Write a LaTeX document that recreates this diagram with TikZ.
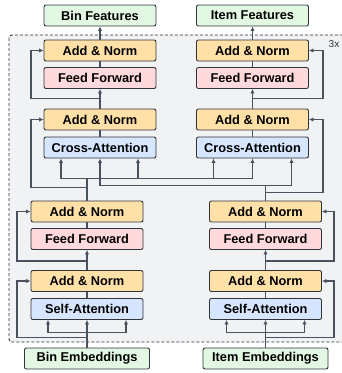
\documentclass[tikz,border=0pt]{standalone}
\usepackage{fontspec}
\setmainfont{Liberation Sans}
\usetikzlibrary{arrows.meta}
\definecolor{normfill}{HTML}{FFE1A8}
\definecolor{fffill}{HTML}{FFD9DC}
\definecolor{attfill}{HTML}{D6E6FF}
\definecolor{iofill}{HTML}{E3F8E2}
\definecolor{boxline}{HTML}{2F343B}
\definecolor{linkgray}{HTML}{4A5260}
\definecolor{panel}{HTML}{F1F2F4}

\begin{document}
\begin{tikzpicture}[
					x=1pt,y=-1pt,
					blk/.style={draw=boxline,line width=0.9pt,rounded corners=2pt,minimum width=112pt,minimum height=21pt,inner sep=0pt,font=\bfseries\fontsize{12.8}{14}\selectfont},
					anorm/.style={blk,fill=normfill},
					ffwd/.style={blk,fill=fffill},
					attn/.style={blk,fill=attfill},
					iobox/.style={blk,fill=iofill},
					link/.style={draw=linkgray,line width=1.2pt},
					arr/.style={link,-{Latex[length=4.5pt,width=4.5pt]}}
					]
					\useasboundingbox (0,0) rectangle (342,373);
					% repeated block
					\draw[boxline,dash pattern=on 3pt off 2pt,line width=0.9pt,fill=panel,rounded corners=3pt] (9,35) rectangle (350,342);
					\node[font=\fontsize{10}{11}\selectfont,text=boxline] (rep) at (334,44) {3x};
					% upper stacks
					\foreach \q/\x/\lab in {b/100/Bin,i/252.5/Item}{
						\node[iobox] (feat\q) at (\x,15.5) {\lab{} Features};
						\node[anorm] (tan2\q) at (\x,50.5) {Add \& Norm};
						\node[ffwd] (tff\q) at (\x,78) {Feed Forward};
						\node[anorm] (tan1\q) at (\x,119.5) {Add \& Norm};
						\node[attn] (ca\q) at (\x,147.5) {Cross-Attention};
						\draw[arr] (tan2\q) -- (feat\q);
						\draw[link] (tff\q) -- (tan2\q);
						\draw[arr] (tan1\q) -- (tff\q);
						\draw[link] (ca\q) -- (tan1\q);
					}
					% lower stacks
					\foreach \q/\x/\lab/\w in {b/87/Bin/125,i/265.5/Item/125}{
						\node[anorm] (ban2\q) at (\x,211.5) {Add \& Norm};
						\node[ffwd] (bff\q) at (\x,239) {Feed Forward};
						\node[anorm] (ban1\q) at (\x,281) {Add \& Norm};
						\node[attn] (sa\q) at (\x,309) {Self-Attention};
						\node[iobox,minimum width=\w pt] (emb\q) at (\x,358.5) {\lab{} Embeddings};
						\draw[link] (bff\q) -- (ban2\q);
						\draw[arr] (ban1\q) -- (bff\q);
						\draw[link] (sa\q) -- (ban1\q);
						\draw[arr] (emb\q) -- (sa\q);
						\draw[arr] ([yshift=15pt]emb\q.north) -| ([xshift=-39pt]sa\q.south);
						\draw[arr] ([yshift=15pt]emb\q.north) -| ([xshift=39pt]sa\q.south);
					}
					% residuals
					\draw[arr] ([yshift=10pt]embb.north) -- ++(-70,0) |- (ban1b.west);
					\draw[arr] ([yshift=9pt]ban1b.north) -- ++(-70,0) |- (ban2b.west);
					\draw[arr] ([yshift=10pt]embi.north) -- ++(68.5,0) |- (ban1i.east);
					\draw[arr] ([yshift=9pt]ban1i.north) -- ++(68.5,0) |- (ban2i.east);
					\draw[arr] ([yshift=10pt]tan1b.north) -- ++(-69,0) |- (tan2b.west);
					\draw[arr] ([yshift=10pt]tan1i.north) -- ++(70.5,0) |- (tan2i.east);
					% cross links
					\coordinate (kb) at ([yshift=22pt]ban2b.north);
					\coordinate (ki) at ([yshift=15pt]ban2i.north);
					\draw[link] (ban2b) -- (kb);
					\draw[link] (ban2i) -- (ki);
					\draw[arr] (kb) -| ([xshift=-39pt]cab.south);
					\draw[arr] (kb) -| ([xshift=38pt]cab.south);
					\draw[arr] (kb) -| ([xshift=-39pt]cai.south);
					\draw[arr] (kb) -| (cai.south);
					\draw[arr] (ki) -| (cab.south);
					\draw[arr] (ki) -| ([xshift=39pt]cai.south);
					\draw[arr] ([yshift=13pt]ban2b.north) -- ++(-56,0) |- (tan1b.west);
					\draw[arr] ([yshift=8pt]ban2i.north) -- ++(57.5,0) |- (tan1i.east);
				\end{tikzpicture}
\end{document}
